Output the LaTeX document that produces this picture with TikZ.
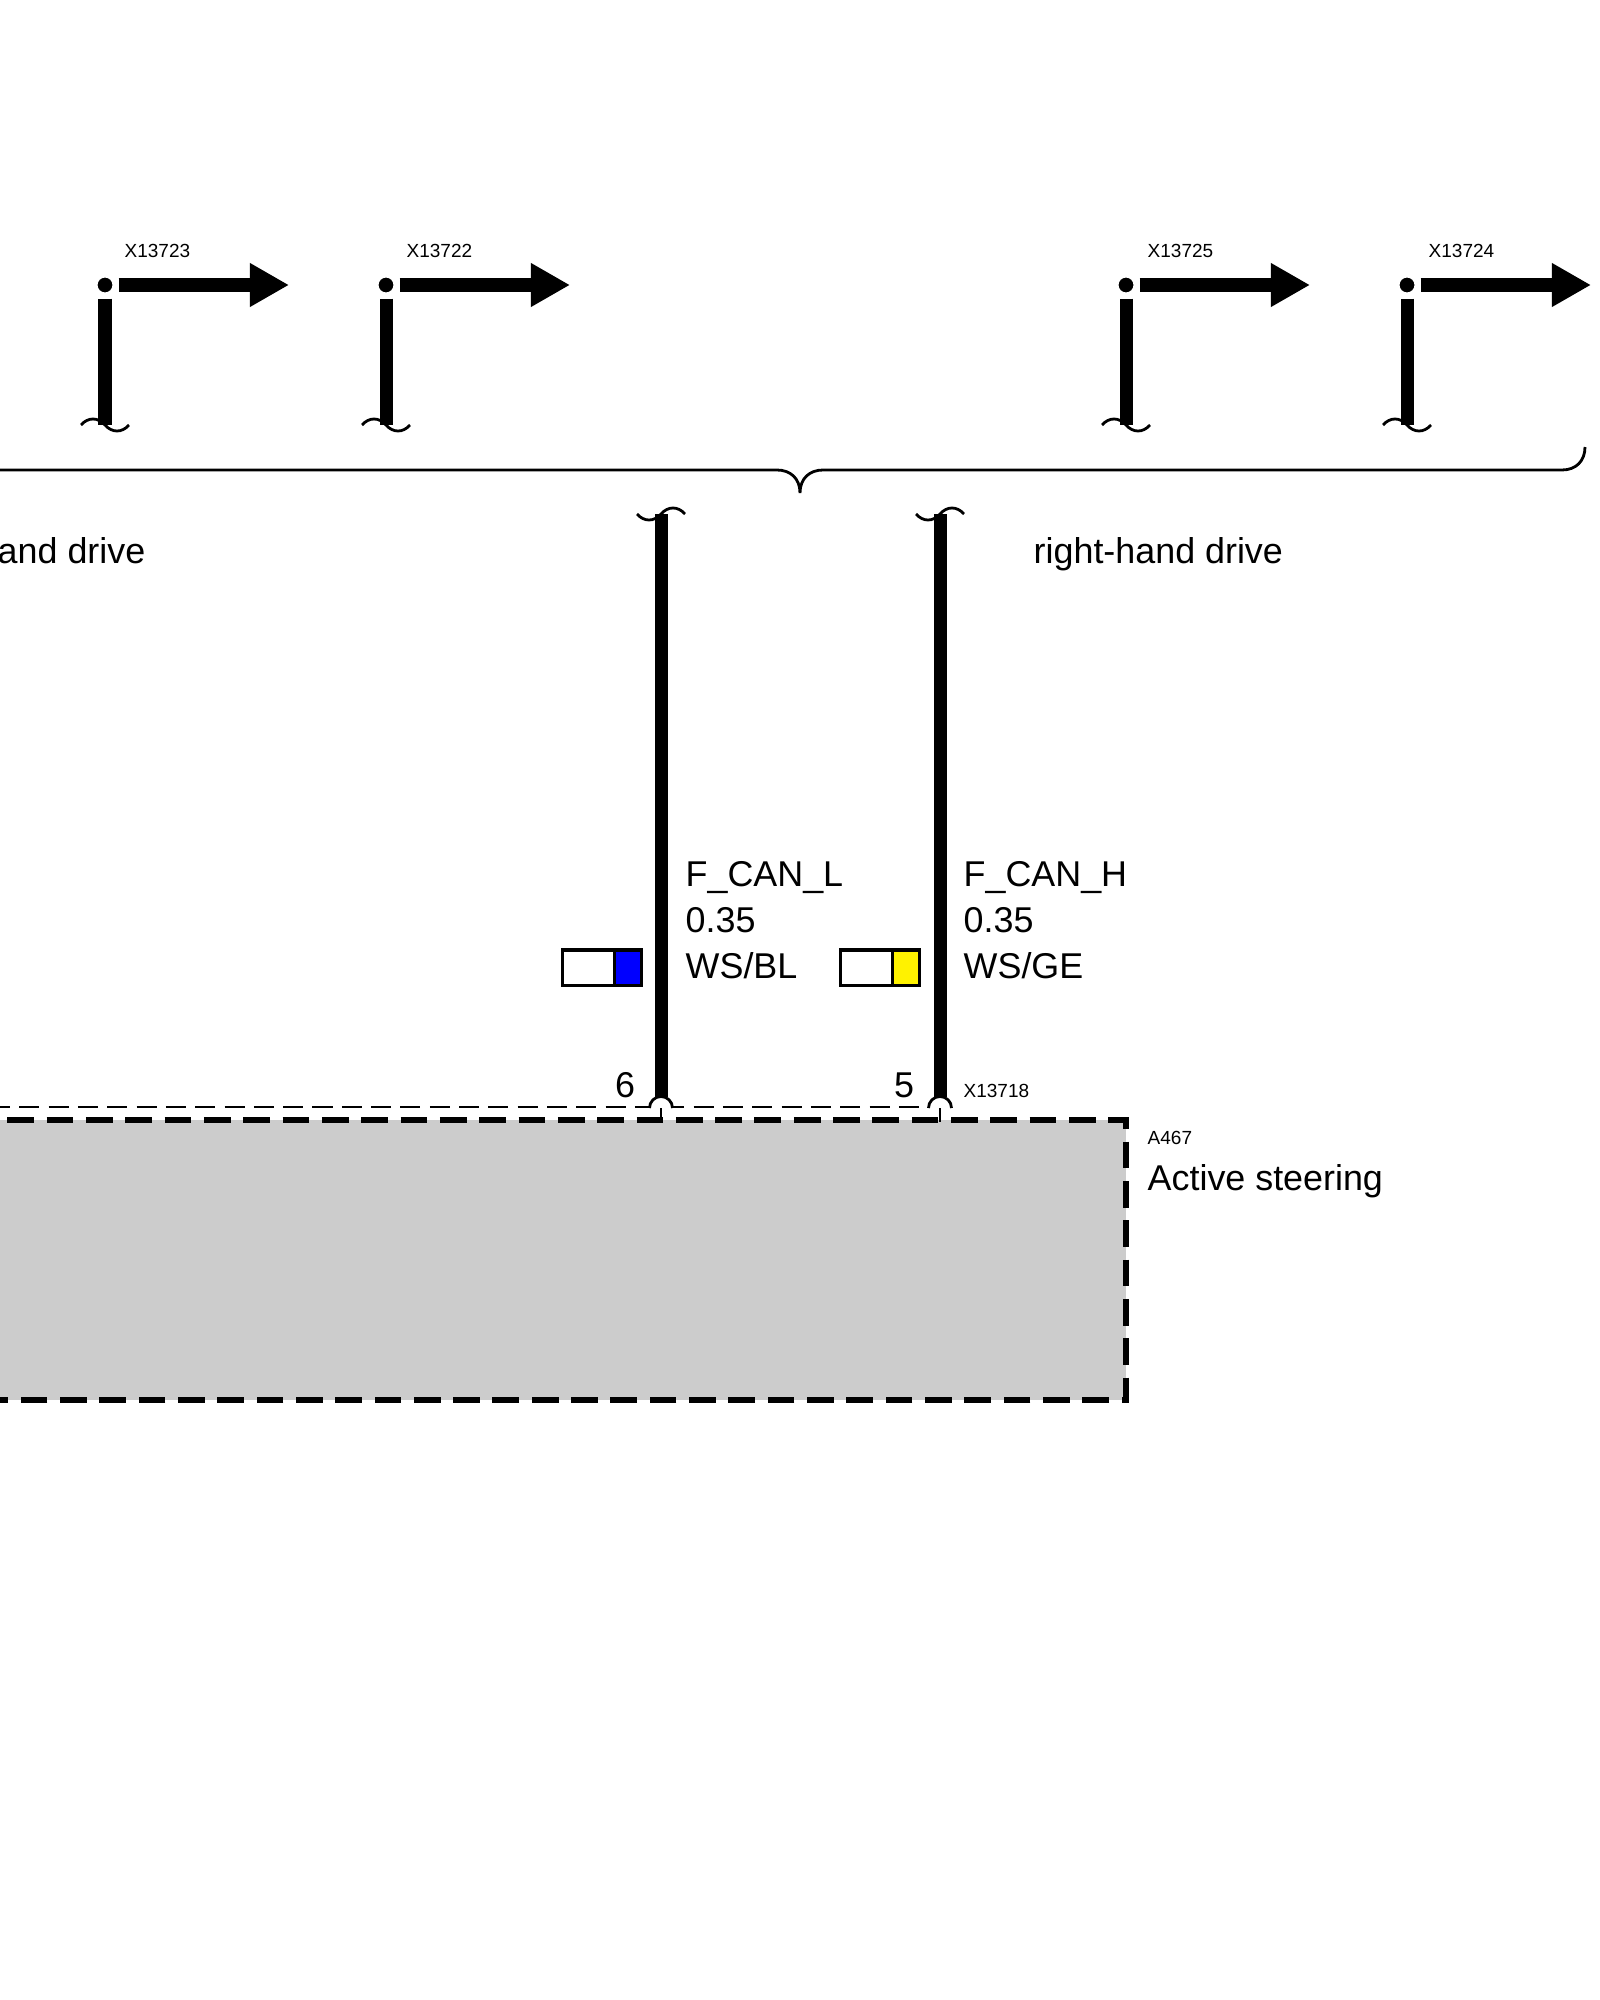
\documentclass[tikz,border=0pt]{standalone}
\usepackage{fontspec}
\setmainfont{Liberation Sans}
\usetikzlibrary{arrows.meta,positioning}

\begin{document}
\begin{tikzpicture}[x = 0.01cm, y = 0.01cm, font = \fontsize{10.2pt}{12pt}\selectfont]
    \tikzset{
      wire/.style = {line width = 0.13cm},
      flagline/.style = {wire, -{Triangle[length = 0.39cm, width = 0.41cm]}},
      dot/.style = {circle, fill = black, draw = white, line width = 0.06cm, inner sep = 0, minimum size = 0.21cm},
      thin/.style = {line width = 0.028cm},
      shieldline/.style = {thin, dash pattern = on 0.2cm off 0.093cm},
      boxline/.style = {line width = 0.06cm, dash pattern = on 0.267cm off 0.126cm},
      swatch/.style = {draw, line width = 0.03cm, inner sep = 0, minimum height = 0.35cm},
      txt/.style = {inner sep = 0, anchor = base west},
      small/.style = {txt, font = \fontsize{5.4pt}{7pt}\selectfont},
      tail/.pic = {\draw [thin] (-24, 0) .. controls (-17, 8) and (-7, 8) .. (0, 0) .. controls (7, -8) and (17, -8) .. (24, 0);},
    }
    \useasboundingbox (0, 0) rectangle (1600, -2000);

    % flags
    \node [dot] (flag0) at (105, -285) {};
    \node [dot] (flag1) at (386, -285) {};
    \node [dot] (flag2) at (1126, -285) {};
    \node [dot] (flag3) at (1407, -285) {};
    \coordinate (foot0) at (105, -425);
    \coordinate (foot1) at (386, -425);
    \coordinate (foot2) at (1126, -425);
    \coordinate (foot3) at (1407, -425);
    \coordinate (tip0) at (289, -285);
    \coordinate (tip1) at (570, -285);
    \coordinate (tip2) at (1310, -285);
    \coordinate (tip3) at (1591, -285);

    \draw [wire] (flag0) -- (foot0);
    \draw [wire] (flag1) -- (foot1);
    \draw [wire] (flag2) -- (foot2);
    \draw [wire] (flag3) -- (foot3);
    \draw [flagline] (flag0) -- (tip0);
    \draw [flagline] (flag1) -- (tip1);
    \draw [flagline] (flag2) -- (tip2);
    \draw [flagline] (flag3) -- (tip3);
    \pic at (foot0) {tail};
    \pic at (foot1) {tail};
    \pic at (foot2) {tail};
    \pic at (foot3) {tail};

    \node [small] (x13723) at (124, -258) {X13723};
    \node [small] (x13722) at (406, -258) {X13722};
    \node [small] (x13725) at (1147, -258) {X13725};
    \node [small] (x13724) at (1428, -258) {X13724};

    % brace
    \draw [thin] (-10, -470) -- (777, -470) .. controls (790, -470) and (800, -478) .. (800, -493)
      .. controls (800, -478) and (810, -470) .. (823, -470) -- (1562, -470)
      .. controls (1576, -470) and (1585, -461) .. (1585, -447);

    \node [txt, anchor = base east] (lhd) at (146, -563) {and drive};
    \node [txt] (rhd) at (1033, -563) {right-hand drive};

    % control unit
    \draw [thin, draw = none, fill = black!20] (-32, -1120) rectangle (1126, -1400);
    \draw [boxline] (-32, -1120) -- (1126, -1120) -- (1126, -1400) -- (-32, -1400);
    \node [small] (a467) at (1147, -1144) {A467};
    \node [txt] (unit) at (1147, -1190) {Active steering};

    % pins
    \coordinate (shield0) at (-10, -1107);
    \coordinate (shield1) at (928, -1107);
    \draw [shieldline] (shield0) -- (shield1);

    \coordinate (top6) at (661, -514);
    \coordinate (top5) at (940, -514);
    \coordinate (pin6) at (661, -1097);
    \coordinate (pin5) at (940, -1097);
    \coordinate (base6) at (661, -1108);
    \coordinate (base5) at (940, -1108);
    \coordinate (end6) at (661, -1122);
    \coordinate (end5) at (940, -1122);

    \draw [wire] (top6) -- (pin6);
    \draw [wire] (top5) -- (pin5);
    \pic [yscale = -1] at (top6) {tail};
    \pic [yscale = -1] at (top5) {tail};
    \draw [thin, fill = white] (pin6) ++(-11.5, -11) arc (180:0:11.5);
    \draw [thin, fill = white] (pin5) ++(-11.5, -11) arc (180:0:11.5);
    \draw [thin] (base6) -- (end6);
    \draw [thin] (base5) -- (end5);

    \node [txt, anchor = base] (pinno6) at (625, -1097) {6};
    \node [txt, anchor = base] (pinno5) at (904, -1097) {5};
    \node [small] (x13718) at (963, -1097) {X13718};

    % left wire
    \node [txt] (sig6) at (685, -886) {F\_CAN\_L};
    \node [txt] (size6) at (685, -932) {0.35};
    \node [txt] (col6) at (685, -978) {WS/BL};
    \node [swatch, fill = white, minimum width = 0.52cm] (swatch6) at (589, -967.5) {};
    \node [swatch, fill = blue, minimum width = 0.27cm] (band6) at (628, -967.5) {};

    % right wire
    \node [txt] (sig5) at (963, -886) {F\_CAN\_H};
    \node [txt] (size5) at (963, -932) {0.35};
    \node [txt] (col5) at (963, -978) {WS/GE};
    \node [swatch, fill = white, minimum width = 0.52cm] (swatch5) at (867, -967.5) {};
    \node [swatch, fill = yellow, minimum width = 0.27cm] (band5) at (906, -967.5) {};
  \end{tikzpicture}
\end{document}
